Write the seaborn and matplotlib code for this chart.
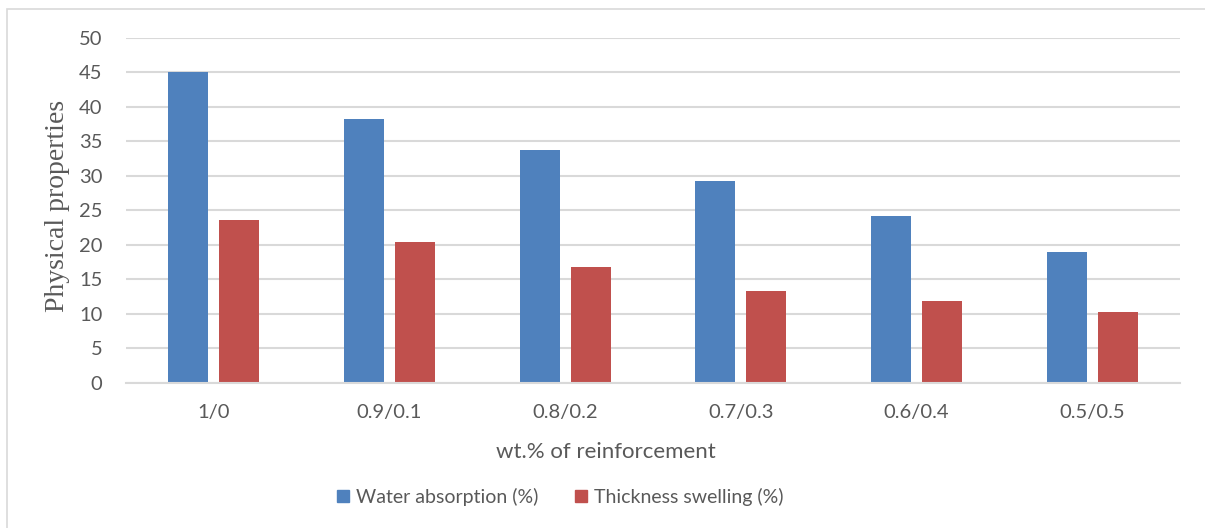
import matplotlib
matplotlib.use("Agg")
import matplotlib.pyplot as plt
import matplotlib.patches as mpatches
import seaborn as sns
import pandas as pd

categories = ["1/0", "0.9/0.1", "0.8/0.2", "0.7/0.3", "0.6/0.4", "0.5/0.5"]
water_absorption = [45.0, 38.2, 33.8, 29.2, 24.2, 18.9]
thickness_swelling = [23.6, 20.4, 16.8, 13.3, 11.8, 10.2]
series_names = ["Water absorption (%)", "Thickness swelling (%)"]
y_ticks = [0, 5, 10, 15, 20, 25, 30, 35, 40, 45, 50]

colors = ["#4F81BD", "#C0504D"]
text_color = "#595959"
grid_color = "#D9D9D9"

df = pd.DataFrame({
    "wt": categories * 2,
    "value": water_absorption + thickness_swelling,
    "series": [series_names[0]] * len(categories) + [series_names[1]] * len(categories),
})

sns.set_theme(style="white")
plt.rcParams["font.family"] = ["Lato", "DejaVu Sans"]

W, H = 1205, 528
fig = plt.figure(figsize=(W / 100, H / 100), dpi=100)
ax = fig.add_axes([126 / W, 1 - 382.7 / H, (1180 - 126) / W, (382.7 - 38) / H])

sns.barplot(data=df, x="wt", y="value", hue="series", order=categories,
            hue_order=series_names, palette=colors, width=0.58, gap=0.21,
            saturation=1, linewidth=0, ax=ax, legend=False)

ax.set_ylim(0, 50)
ax.set_xlim(-0.5, len(categories) - 0.5)
ax.set_yticks(y_ticks)
ax.set_yticklabels([str(t) for t in y_ticks])
ax.yaxis.grid(True, color=grid_color, linewidth=1.5)
ax.set_axisbelow(True)
for s in ["top", "right", "left"]:
    ax.spines[s].set_visible(False)
ax.spines["bottom"].set_color(grid_color)
ax.spines["bottom"].set_linewidth(1.5)
ax.tick_params(axis="both", length=0, colors=text_color, labelsize=14.5)
ax.tick_params(axis="y", pad=17)
ax.tick_params(axis="x", pad=15)

ax.set_xlabel("wt.% of reinforcement", fontsize=16, color=text_color)
ax.xaxis.set_label_coords((606 - 126) / (1180 - 126), -(452 - 382.7) / (382.7 - 38))
ax.xaxis.label.set_va("center")
ax.set_ylabel("Physical properties", fontsize=20, color=text_color,
              family=["Liberation Serif"])
ax.yaxis.set_label_coords(-(126 - 57) / (1180 - 126), (382.7 - 206) / (382.7 - 38))
ax.yaxis.label.set_va("center")

handles = [mpatches.Patch(color=c, label=n) for c, n in zip(colors, series_names)]
leg = fig.legend(handles=handles, loc="center", bbox_to_anchor=(560 / W, 1 - 497 / H),
                 ncol=2, frameon=False, fontsize=14, handlelength=0.62,
                 handleheight=0.62, handletextpad=0.35, columnspacing=1.9)
for t in leg.get_texts():
    t.set_color(text_color)

# outer chart border
fig.patches.append(mpatches.Rectangle((7 / W, -0.1), 1.2, 1 - 9 / H + 0.1,
                                      transform=fig.transFigure, fill=False,
                                      edgecolor="#D9D9D9", linewidth=1.2))

fig.savefig("out.png", dpi=100, facecolor="white")
